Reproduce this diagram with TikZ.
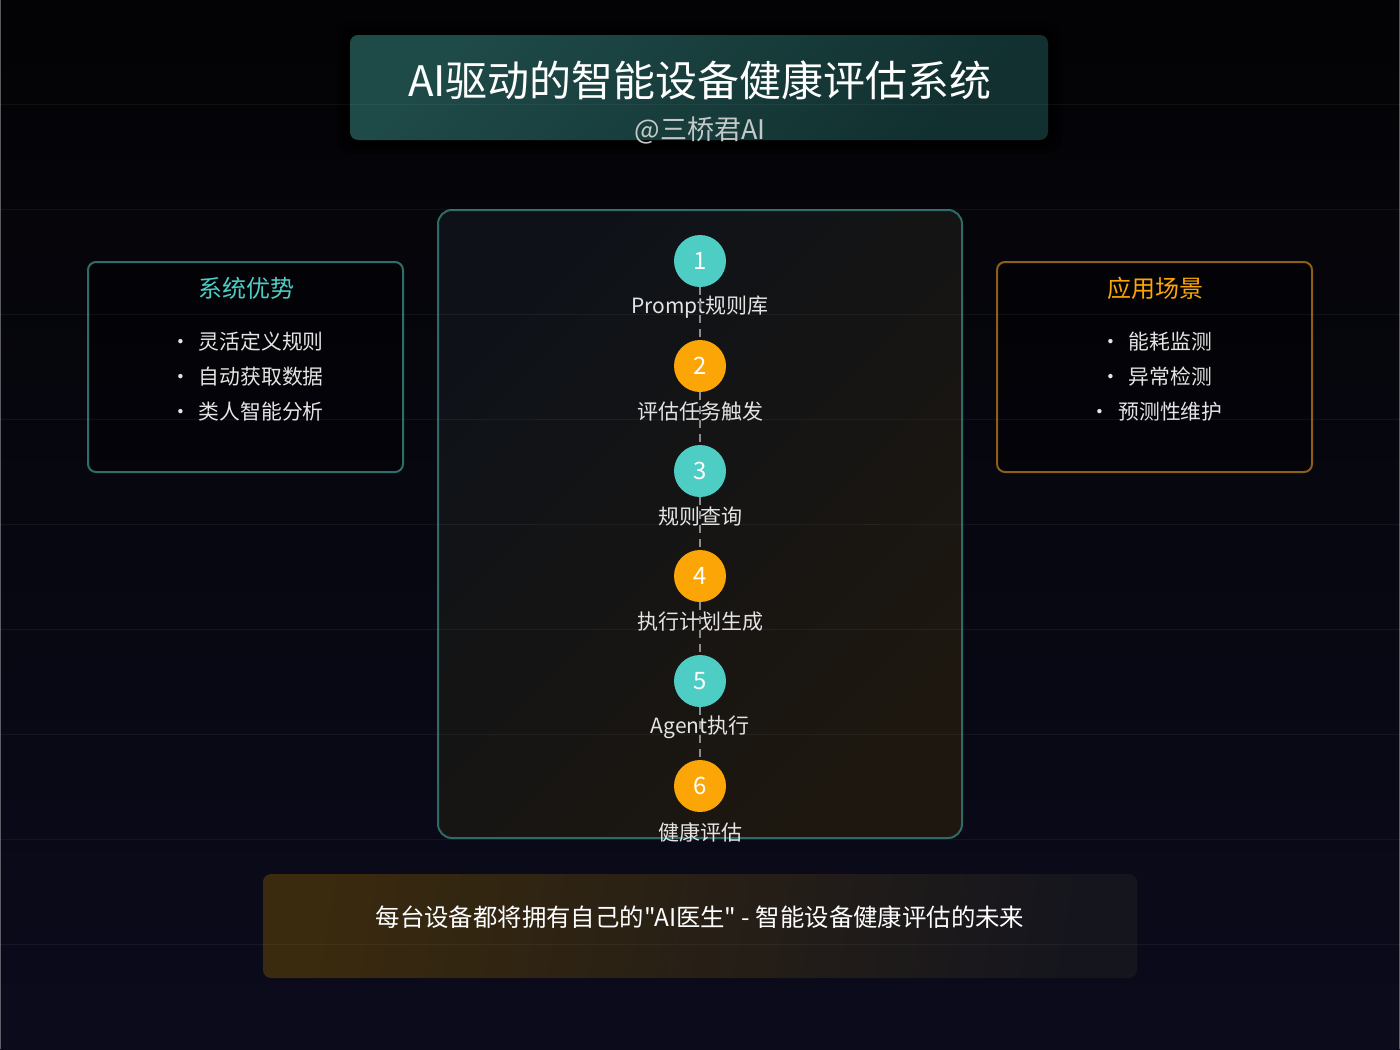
\documentclass[tikz,border=0pt]{standalone}
\usepackage{fontspec}
\setmainfont{Noto Sans CJK SC}[Ligatures=TeXOff]
\definecolor{myteal}{HTML}{4ECDC4}
\definecolor{myorange}{HTML}{FBA506}
\definecolor{labelgray}{HTML}{E4E4E4}
\definecolor{subgray}{HTML}{C4C8C8}
\definecolor{dashgray}{HTML}{8A8C90}
\definecolor{bgtop}{HTML}{030305}
\definecolor{bgbot}{HTML}{0B0B1C}
\definecolor{tealborder}{HTML}{2F6E68}
\definecolor{orangeborder}{HTML}{8C5E16}
\definecolor{midborder}{HTML}{2E6A66}
\definecolor{titleA}{HTML}{1E4A48}
\definecolor{titleB}{HTML}{11302F}
\definecolor{midA}{HTML}{0E1218}
\definecolor{midB}{HTML}{1D170F}
\definecolor{footA}{HTML}{3A2A0E}
\definecolor{footB}{HTML}{15151E}
\begin{document}
\begin{tikzpicture}[x=0.5pt,y=-0.5pt,
  stepcirc/.style={circle, minimum size=26pt, inner sep=0pt, text=white,
    font=\fontsize{12}{14}\selectfont},
  tealc/.style={stepcirc, fill=myteal},
  orangec/.style={stepcirc, fill=myorange},
  steplabel/.style={text=labelgray, inner sep=0pt, font=\fontsize{10.5}{12}\selectfont},
  bullettext/.style={text=labelgray, inner sep=0pt, font=\fontsize{10.4}{12}\selectfont},
  paneltitle/.style={inner sep=0pt, font=\fontsize{12}{14}\selectfont},
  sidepanel/.style={rounded corners=4pt, line width=1pt, minimum width=157.5pt,
    minimum height=105pt, fill=black, fill opacity=0.35},
  flow/.style={draw=dashgray, line width=1pt, dash pattern=on 4pt off 3pt},
  gridline/.style={draw=white, draw opacity=0.05, line width=0.5pt}
]
\useasboundingbox (0,0) rectangle (1400,1049);
% background
\shade[top color=bgtop, bottom color=bgbot] (0,0) rectangle (1400,1049);
\draw[draw=white, draw opacity=0.35, line width=0.6pt] (0.6,0) -- (0.6,1049);
\draw[draw=white, draw opacity=0.35, line width=0.6pt] (1399.4,0) -- (1399.4,1049);

% title box glow
\foreach \g/\o in {14/0.25,9/0.3,5/0.35}{
  \fill[black, opacity=\o, rounded corners=8pt] (350-\g,35-\g) rectangle (1048+\g,140+\g);
}
\node (titlebox) [rounded corners=4pt, minimum width=349pt, minimum height=52.5pt,
  inner sep=0pt, top color=titleA, bottom color=titleB, shading angle=45]
  at (699,87.5) {};

% side panels
\node (leftbox) [sidepanel, draw=tealborder] at (245.5,367) {};
\node (rightbox) [sidepanel, draw=orangeborder] at (1154.5,367) {};

% middle panel
\node (midbox) [rounded corners=7pt, line width=1pt, draw=midborder,
  minimum width=262pt, minimum height=314pt, inner sep=0pt,
  top color=midA, bottom color=midB, shading angle=45] at (700,524) {};

% footer
\node (footbox) [rounded corners=4pt, minimum width=437pt, minimum height=52pt,
  inner sep=0pt, left color=footA, right color=footB, shading angle=80] at (700,926) {};

% grid lines
\foreach \k in {1,...,9}{
  \draw[gridline] (0,104.9*\k) -- (1400,104.9*\k);
}

% title texts
\node (title) [text=white, inner sep=0pt, font=\fontsize{21}{24}\selectfont]
  at (700,80) {AI驱动的智能设备健康评估系统};
\node (subtitle) [text=subgray, inner sep=0pt, font=\fontsize{13.5}{16}\selectfont]
  at (700,130) {@三桥君AI};

% left panel texts
\node (lefttitle) [paneltitle, text=myteal] at (246,288) {系统优势};
\node (lb1) [bullettext] at (247,342) {•\hspace{4pt}灵活定义规则};
\node (lb2) [bullettext] at (247,377) {•\hspace{4pt}自动获取数据};
\node (lb3) [bullettext] at (247,412) {•\hspace{4pt}类人智能分析};

% right panel texts
\node (righttitle) [paneltitle, text=myorange] at (1155,288) {应用场景};
\node (rb1) [bullettext] at (1156,342) {•\hspace{4pt}能耗监测};
\node (rb2) [bullettext] at (1156,377) {•\hspace{4pt}异常检测};
\node (rb3) [bullettext] at (1156,412) {•\hspace{4pt}预测性维护};

% steps
\node (c1) [tealc]   at (700,261) {1};
\node (c2) [orangec] at (700,366) {2};
\node (c3) [tealc]   at (700,471) {3};
\node (c4) [orangec] at (700,576) {4};
\node (c5) [tealc]   at (700,681) {5};
\node (c6) [orangec] at (700,786) {6};

\node (l1) [steplabel] at (700,307) {Prompt规则库};
\node (l2) [steplabel] at (700,412) {评估任务触发};
\node (l3) [steplabel] at (700,517) {规则查询};
\node (l4) [steplabel] at (700,622) {执行计划生成};
\node (l5) [steplabel] at (700,727) {Agent执行};
\node (l6) [steplabel] at (700,832) {健康评估};

\draw[flow] (c1) -- (c2);
\draw[flow] (c2) -- (c3);
\draw[flow] (c3) -- (c4);
\draw[flow] (c4) -- (c5);
\draw[flow] (c5) -- (c6);

% footer text
\node (foottext) [text=white, inner sep=0pt, font=\fontsize{12.2}{14}\selectfont]
  at (700,917) {每台设备都将拥有自己的"AI医生" - 智能设备健康评估的未来};
\end{tikzpicture}
\end{document}
